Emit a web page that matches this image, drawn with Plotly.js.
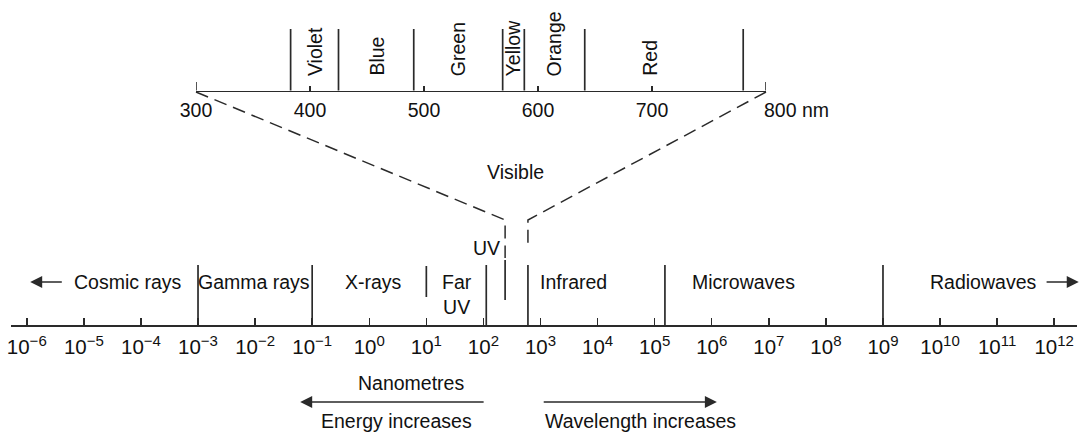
<!DOCTYPE html>
<html><head><meta charset="utf-8">
<script src="https://cdn.plot.ly/plotly-3.0.1.min.js"></script>
<style>html,body{margin:0;padding:0;background:#fff}</style>
</head><body><div id="chart" style="width:1092px;height:432px"></div>
<script>
// ---------- data ----------
const exponents = [-6,-5,-4,-3,-2,-1,0,1,2,3,4,5,6,7,8,9,10,11,12];
const tickLabels = exponents.map(e => '10<sup><span style="font-size:15px">' + (e < 0 ? '\u2212' + (-e) : e) + '</span></sup>');
const regionNames = ['Cosmic rays','Gamma rays','X-rays','Far<br>UV','Infrared','Microwaves','Radiowaves'];
const regionLabelExp = [-4.22,-2.02,0.07,1.54,3.57,6.56,10.76];
const regionBoundaryExp = [-3,-1,2.05,2.78,5.18,9];
const farUvMarkExp = 1;
const uvMarkExp = 2.38;
const uvLabelExp = 2.05;
const visibleLabelExp = 2.57;
const nmTicks = [300,400,500,600,700,800];
const nmTickLabels = ['300','400','500','600','700',''];
const visibleBoundaryNm = [383,425,491,569,588,641,780];
const colourNames = ['Violet','Blue','Green','Yellow','Orange','Red'];
const colourLabelNm = [404,458,530,578,614,698];
const bottomNotes = ['Nanometres','Energy increases','Wavelength increases'];
const bottomNoteExp = [0.73,0.48,4.75];
const energyArrowExp = [2.03,-1.21];     // tail, head
const wavelengthArrowExp = [3.03,6.09];  // tail, head
const cosmicArrowExp = [-5.36,-5.94];
const radioArrowExp = [11.84,12.43];

// ---------- layout geometry ----------
const W = 1092, H = 432;
const PX_PER_DECADE = 57.08, PX_AT_E3 = 540.5;
const pxToExp = px => 3 + (px - PX_AT_E3) / PX_PER_DECADE;
const AX_L = 11, AX_R = 1077, AXIS_Y = 325;
const NM_L = 196, NM_R = 766, TOP_Y = 90.5;
const nmToPx = nm => NM_L + (nm - nmTicks[0]) * (NM_R - NM_L) / (nmTicks[nmTicks.length-1] - nmTicks[0]);
const nmToExp = nm => pxToExp(nmToPx(nm));

const LINE = '#2a2a2a', TXT = '#111', FONT = '"Liberation Sans", Arial, Helvetica, sans-serif', FS = 19.5;

function segs(xs, y0, y1){
  const x = [], y = [];
  xs.forEach(v => { x.push(v, v, null); y.push(y0, y1, null); });
  return {x, y};
}

const traces = [];
const b = segs(regionBoundaryExp, 265, AXIS_Y);
traces.push({x:b.x, y:b.y, xaxis:'x', yaxis:'y', mode:'lines', line:{color:LINE, width:1.7}, hoverinfo:'skip'});
traces.push({x:[farUvMarkExp, farUvMarkExp, null, uvMarkExp, uvMarkExp], y:[266, 297, null, 260, 300],
  xaxis:'x', yaxis:'y', mode:'lines', line:{color:LINE, width:1.7}, hoverinfo:'skip'});
const t = segs(visibleBoundaryNm, 29, TOP_Y);
traces.push({x:t.x, y:t.y, xaxis:'x2', yaxis:'y', mode:'lines', line:{color:LINE, width:1.7}, hoverinfo:'skip'});
// end ticks of nm axis
const e = segs([nmTicks[0], nmTicks[nmTicks.length-1]], 82, TOP_Y);
traces.push({x:e.x, y:e.y, xaxis:'x2', yaxis:'y', mode:'lines', line:{color:LINE, width:1.6}, hoverinfo:'skip'});
// dashed zoom lines
const irBoundary = regionBoundaryExp[3];
traces.push({x:[nmToExp(nmTicks[0]), uvMarkExp, uvMarkExp, null, nmToExp(nmTicks[nmTicks.length-1]), irBoundary, irBoundary],
  y:[92, 220, 258, null, 92, 220, 246], xaxis:'x', yaxis:'y', mode:'lines',
  line:{color:LINE, width:1.5, dash:'13px,7px'}, hoverinfo:'skip'});

const ann = [];
function txt(text, x, y, opts){
  ann.push(Object.assign({text, x, y, xref:'x', yref:'y', showarrow:false, xanchor:'center', yanchor:'middle',
    font:{family:FONT, size:FS, color:TXT}}, opts||{}));
}
regionNames.forEach((n,i) => txt(n, regionLabelExp[i], n.indexOf('<br>') >= 0 ? 294 : 282));
txt('UV', uvLabelExp, 248);
txt('Visible', visibleLabelExp, 172);
txt(bottomNotes[0], bottomNoteExp[0], 383);
txt(bottomNotes[1], bottomNoteExp[1], 421);
txt(bottomNotes[2], bottomNoteExp[2], 421);
colourNames.forEach((n,i) => ann.push({text:n, x:colourLabelNm[i], y:78, xref:'x2', yref:'y', showarrow:false,
  textangle:-90, xanchor:'center', yanchor:'bottom', font:{family:FONT, size:FS, color:TXT}}));
ann.push({text:nmTicks[nmTicks.length-1] + ' nm', x:nmTicks[nmTicks.length-1], y:110, xref:'x2', yref:'y', showarrow:false,
  xanchor:'left', yanchor:'middle', xshift:-4, font:{family:FONT, size:FS, color:TXT}});
function arrow(tail, head, y){
  ann.push({text:'', x:head, y:y, ax:tail, ay:y, xref:'x', yref:'y', axref:'x', ayref:'y', showarrow:true,
    arrowhead:2, arrowsize:1.6, arrowwidth:1.5, arrowcolor:LINE, standoff:0, startstandoff:0});
}
arrow(energyArrowExp[0], energyArrowExp[1], 402);
arrow(wavelengthArrowExp[0], wavelengthArrowExp[1], 402);
arrow(cosmicArrowExp[0], cosmicArrowExp[1], 282);
arrow(radioArrowExp[0], radioArrowExp[1], 282);

const layout = {
  width:W, height:H, margin:{l:0,r:0,t:0,b:0}, showlegend:false,
  paper_bgcolor:'#fff', plot_bgcolor:'rgba(0,0,0,0)',
  font:{family:FONT, size:FS, color:TXT},
  xaxis:{domain:[AX_L/W, AX_R/W], range:[pxToExp(AX_L), pxToExp(AX_R)], anchor:'free', position:(H-AXIS_Y)/H,
    showline:true, linecolor:LINE, linewidth:1.8, showgrid:false, zeroline:false,
    ticks:'inside', ticklen:7, tickwidth:1.5, tickcolor:LINE, ticklabelstandoff:3,
    tickmode:'array', tickvals:exponents, ticktext:tickLabels, tickangle:0,
    tickfont:{family:FONT, size:20.5, color:TXT}, fixedrange:true},
  xaxis2:{domain:[NM_L/W, NM_R/W], range:[nmTicks[0], nmTicks[nmTicks.length-1]], anchor:'free', position:(H-TOP_Y)/H,
    showline:true, linecolor:LINE, linewidth:1.8, showgrid:false, zeroline:false,
    ticks:'inside', ticklen:5, tickwidth:1.5, tickcolor:LINE, ticklabelstandoff:1,
    tickmode:'array', tickvals:nmTicks, ticktext:nmTickLabels, tickangle:0,
    tickfont:{family:FONT, size:FS, color:TXT}, fixedrange:true},
  yaxis:{domain:[0,1], range:[H,0], visible:false, fixedrange:true},
  annotations:ann
};
Plotly.newPlot('chart', traces, layout, {staticPlot:true, displayModeBar:false});
</script></body></html>
